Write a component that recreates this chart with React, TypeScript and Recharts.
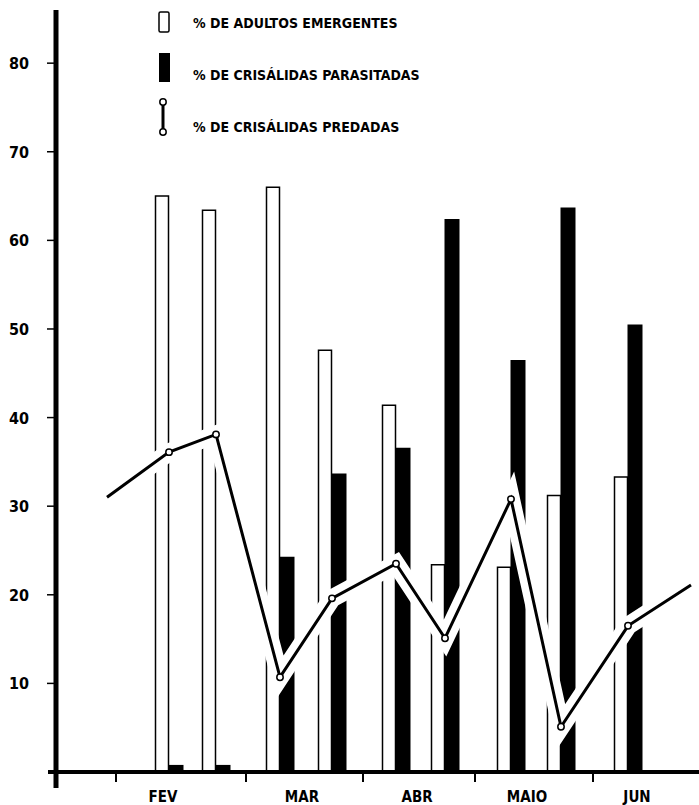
import { Bar, ComposedChart, Legend, Line, XAxis, YAxis } from 'recharts'

const FONT = "'Liberation Sans Narrow', 'Arial Narrow', 'DejaVu Sans Condensed', sans-serif"

// posição de cada coleta no eixo do tempo (unidades do eixo x)
const coletas = [113, 160, 224, 276, 340, 389, 455, 505, 572]
const adultosEmergentes = [65.0, 63.4, 66.0, 47.6, 41.4, 23.4, 23.1, 31.2, 33.3]
const crisalidasParasitadas = [0.8, 0.8, 24.3, 33.7, 36.6, 62.4, 46.5, 63.7, 50.5]
const crisalidasPredadas = [36.1, 38.1, 10.7, 19.6, 23.5, 15.1, 30.8, 5.1, 16.5]

// a linha começa e termina fora das coletas
const predadasInicio = { x: 51, value: 31.0 }
const predadasFim = { x: 635, value: 21.1 }

const meses = ['FEV', 'MAR', 'ABR', 'MAIO', 'JUN']
const mesesPosicao = [107, 246, 361, 471, 581]
const mesesLimites = [60, 190, 307, 419, 537]
const yTicks = [0, 10, 20, 30, 40, 50, 60, 70, 80]

const data = [
  { x: predadasInicio.x, predadas: predadasInicio.value },
  ...coletas.map((x, i) => ({
    x,
    emergentes: adultosEmergentes[i],
    parasitadas: crisalidasParasitadas[i],
    predadas: crisalidasPredadas[i],
  })),
  { x: predadasFim.x, predadas: predadasFim.value },
]

const xTicks = [0, ...mesesLimites, ...mesesPosicao]

const textStyle = { fontFamily: FONT, fontWeight: 700, fill: '#000' }

function XTick({ x, y, payload }: any) {
  const v = payload.value
  if (v === 0) {
    return <line x1={x - 8} y1={y} x2={x} y2={y} stroke="#000" strokeWidth={4} />
  }
  const m = mesesPosicao.indexOf(v)
  if (m >= 0) {
    return (
      <text x={x} y={y + 30} textAnchor="middle" fontSize={15} style={textStyle}>
        {meses[m]}
      </text>
    )
  }
  return <line x1={x} y1={y} x2={x} y2={y + 10} stroke="#000" strokeWidth={2} />
}

function YTick({ x, y, payload }: any) {
  if (payload.value === 0) {
    return <line x1={x} y1={y} x2={x} y2={y + 16} stroke="#000" strokeWidth={5} />
  }
  return (
    <g>
      <line x1={x - 9} y1={y} x2={x} y2={y} stroke="#000" strokeWidth={1.5} />
      <text x={29} y={y + 6} textAnchor="end" fontSize={16} style={textStyle}>
        {payload.value}
      </text>
    </g>
  )
}

function renderDot(props: any) {
  const { cx, cy, payload, index } = props
  if (payload.emergentes === undefined) return <g key={index} />
  return <circle key={index} cx={cx} cy={cy} r={3.2} fill="#fff" stroke="#000" strokeWidth={1.5} />
}

function renderLegend() {
  return (
    <svg width={699} height={140}>
      <rect x={159} y={12} width={10} height={20} rx={1.5} fill="#fff" stroke="#000" strokeWidth={1.5} />
      <text x={193} y={28} fontSize={14} style={textStyle}>% DE ADULTOS EMERGENTES</text>
      <rect x={159} y={53} width={11} height={29} fill="#000" />
      <text x={193} y={80} fontSize={14} style={textStyle}>% DE CRISÁLIDAS PARASITADAS</text>
      <line x1={163} y1={105} x2={163} y2={129} stroke="#000" strokeWidth={3} />
      <circle cx={163} cy={102} r={3.2} fill="#fff" stroke="#000" strokeWidth={1.5} />
      <circle cx={163} cy={132} r={3.2} fill="#fff" stroke="#000" strokeWidth={1.5} />
      <text x={193} y={132} fontSize={14} style={textStyle}>% DE CRISÁLIDAS PREDADAS</text>
    </svg>
  )
}

export default function App() {
  return (
    <div style={{ position: 'absolute', left: 0, top: 0, background: '#fff' }}>
      <ComposedChart
        width={699}
        height={805}
        data={data}
        margin={{ top: 10, right: 0, bottom: 0, left: 0 }}
        barGap={0}
      >
        <XAxis
          type="number"
          dataKey="x"
          domain={[0, 643]}
          ticks={xTicks}
          interval={0}
          tick={XTick}
          tickSize={0}
          tickMargin={0}
          tickLine={false}
          axisLine={{ stroke: '#000', strokeWidth: 4 }}
          height={33}
          allowDataOverflow
        />
        <YAxis
          type="number"
          domain={[0, 86]}
          ticks={yTicks}
          interval={0}
          tick={YTick}
          tickSize={0}
          tickMargin={0}
          tickLine={false}
          axisLine={{ stroke: '#000', strokeWidth: 5 }}
          width={56}
          allowDataOverflow
        />
        <Legend
          content={renderLegend}
          layout="vertical"
          align="center"
          verticalAlign="middle"
          wrapperStyle={{ top: 0, left: 0, width: 699, height: 140 }}
        />
        <Bar dataKey="emergentes" barSize={13} fill="#fff" stroke="#000" strokeWidth={1.5} isAnimationActive={false} />
        <Bar dataKey="parasitadas" barSize={15} fill="#000" isAnimationActive={false} />
        <Line
          dataKey="predadas"
          type="linear"
          stroke="#fff"
          strokeWidth={18}
          strokeLinejoin="miter"
          strokeMiterlimit={4}
          dot={false}
          activeDot={false}
          legendType="none"
          isAnimationActive={false}
        />
        <Line
          dataKey="predadas"
          type="linear"
          stroke="#000"
          strokeWidth={3}
          dot={renderDot}
          activeDot={false}
          isAnimationActive={false}
        />
      </ComposedChart>
    </div>
  )
}
